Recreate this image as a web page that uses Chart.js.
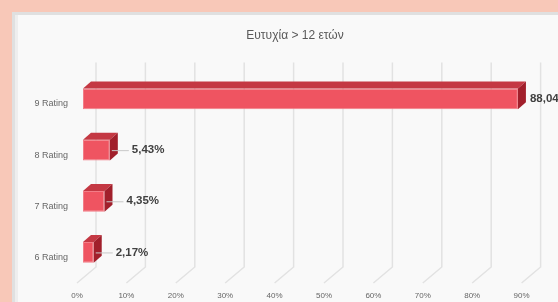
<!DOCTYPE html>
<html>
<head>
<meta charset="utf-8">
<script src="https://cdn.jsdelivr.net/npm/chart.js@4/dist/chart.umd.min.js"></script>
<style>
  html, body { margin: 0; padding: 0; }
  body { width: 558px; height: 302px; overflow: hidden; background: #f8c8b8; position: relative; }
  #panel { position: absolute; left: 12px; top: 12px; width: 640px; height: 340px;
           background: #f9f9f9; border-left: 3px solid #e0e0e0; border-top: 3px solid #e0e0e0;
           box-shadow: inset 3px 0 0 #eeeeee; }
  #c { position: absolute; left: 0; top: 0; }
</style>
</head>
<body>
<div id="panel"></div>
<canvas id="c" width="600" height="320"></canvas>
<script>
const categories = ['9 Rating', '8 Rating', '7 Rating', '6 Rating'];
const values = [88.04, 5.43, 4.35, 2.17];
const titleText = 'Ευτυχία > 12 ετών';
const xMin = 0, xMax = 100, xStep = 10;

const fmt = v => v.toFixed(2).replace('.', ',') + '%';

// 3D geometry (styles)
const FLOOR_DX = 19, FLOOR_DY = -16;
const BAR_DX = 6, BAR_DY = -5;
const DEPTH_DX = 8, DEPTH_DY = -7;

const threeD = {
  id: 'threeD',
  beforeDatasetsDraw(chart) {
    const { ctx, chartArea: a, scales: { x } } = chart;
    ctx.save();
    ctx.strokeStyle = '#e2e2e2';
    ctx.lineWidth = 1.5;
    x.ticks.forEach(t => {
      const px = x.getPixelForValue(t.value);
      ctx.beginPath();
      ctx.moveTo(px + FLOOR_DX, a.top + FLOOR_DY);
      ctx.lineTo(px + FLOOR_DX, a.bottom + FLOOR_DY);
      ctx.lineTo(px, a.bottom);
      ctx.stroke();
    });
    ctx.restore();
    ctx.save();
    ctx.translate(BAR_DX, BAR_DY);
  },
  afterDatasetsDraw(chart) {
    const { ctx } = chart;
    ctx.restore();
    const meta = chart.getDatasetMeta(0);
    meta.data.forEach((el, i) => {
      const p = el.getProps(['x', 'y', 'base', 'height'], true);
      const top = p.y - p.height / 2 + BAR_DY;
      const bottom = p.y + p.height / 2 + BAR_DY;
      const left = p.base + BAR_DX;
      const right = p.x + BAR_DX;
      ctx.save();
      // top face
      ctx.fillStyle = '#c43843';
      ctx.beginPath();
      ctx.moveTo(left, top);
      ctx.lineTo(right, top);
      ctx.lineTo(right + DEPTH_DX, top + DEPTH_DY);
      ctx.lineTo(left + DEPTH_DX, top + DEPTH_DY);
      ctx.closePath();
      ctx.fill();
      // right face
      ctx.fillStyle = '#a11f2b';
      ctx.beginPath();
      ctx.moveTo(right, top);
      ctx.lineTo(right + DEPTH_DX, top + DEPTH_DY);
      ctx.lineTo(right + DEPTH_DX, bottom + DEPTH_DY);
      ctx.lineTo(right, bottom);
      ctx.closePath();
      ctx.fill();
      // label
      const cy = (top + bottom) / 2;
      const v = values[i];
      const big = v >= 50;
      const lx = right + (big ? 12 : 22);
      if (!big) {
        ctx.strokeStyle = '#c8c8c8';
        ctx.lineWidth = 1;
        ctx.beginPath();
        ctx.moveTo(right + 2, cy + 0.5);
        ctx.lineTo(lx - 3, cy + 0.5);
        ctx.stroke();
      }
      ctx.fillStyle = '#404040';
      ctx.font = 'bold 11.5px "Liberation Sans", Arial, sans-serif';
      ctx.textAlign = 'left';
      ctx.textBaseline = 'middle';
      ctx.fillText(fmt(v), lx, cy);
      ctx.restore();
    });
  }
};

new Chart(document.getElementById('c'), {
  type: 'bar',
  data: {
    labels: categories,
    datasets: [{
      data: values,
      backgroundColor: '#ef5461',
      borderColor: '#f27d87',
      borderWidth: 1,
      borderSkipped: false,
      categoryPercentage: 1,
      barPercentage: 0.405
    }]
  },
  options: {
    indexAxis: 'y',
    responsive: false,
    animation: false,
    devicePixelRatio: 1,
    layout: { padding: { left: 19, right: 29, top: 20, bottom: 0 } },
    plugins: {
      legend: { display: false },
      tooltip: { enabled: false },
      title: {
        display: true,
        text: titleText,
        color: '#595959',
        font: { family: '"Liberation Sans", Arial, sans-serif', size: 12, weight: 'normal', lineHeight: 1.2 },
        padding: { top: 8, bottom: 36 }
      }
    },
    scales: {
      x: {
        min: xMin, max: xMax,
        grid: { display: false, drawTicks: false },
        border: { display: false },
        ticks: {
          stepSize: xStep,
          callback: v => v + '%',
          color: '#666666',
          font: { family: '"Liberation Sans", Arial, sans-serif', size: 8 },
          padding: 8,
          maxRotation: 0
        },
        afterFit(scale) { scale.height = 37; }
      },
      y: {
        grid: { display: false, drawTicks: false },
        border: { display: false },
        ticks: {
          color: '#666666',
          font: { family: '"Liberation Sans", Arial, sans-serif', size: 9 },
          padding: 9
        },
        afterFit(scale) { scale.width = 58; }
      }
    }
  },
  plugins: [threeD]
});
</script>
</body>
</html>
